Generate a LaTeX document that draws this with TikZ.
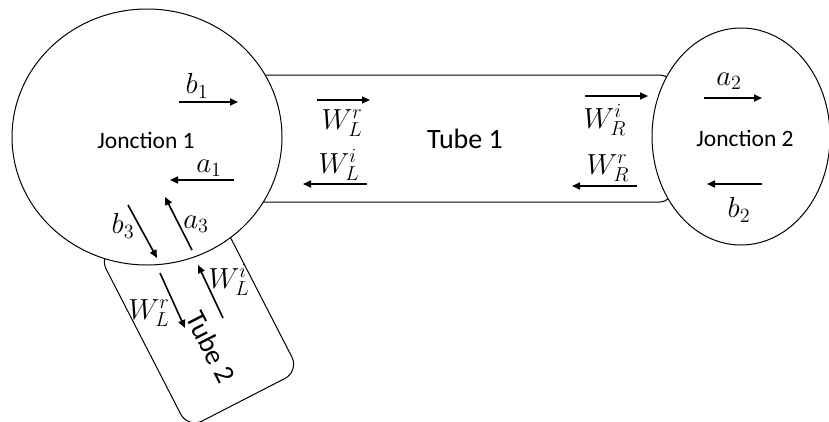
\documentclass[tikz,border=0pt]{standalone}
\usepackage{fontspec}
\setmainfont{Carlito}
\usetikzlibrary{shapes.geometric,arrows.meta}
\begin{document}
\begin{tikzpicture}[x=1pt,y=-1pt, line width=1pt,
  junction/.style={draw, ellipse, fill=white, inner sep=0pt},
  tubebox/.style={draw, rectangle, rounded corners=12pt, fill=white, inner sep=0pt},
  flow/.style={-{Triangle[length=8pt,width=7pt]}, line width=1.6pt},
  lbl/.style={font=\fontsize{20}{24}\selectfont, scale=1.4, inner sep=0pt},
  txt/.style={font=\fontsize{23.5}{28}\selectfont, inner sep=0pt},
  bigtxt/.style={font=\fontsize{28}{32}\selectfont, inner sep=0pt}]
\useasboundingbox (0,0) rectangle (829,421);
% tubes
\node[tubebox, minimum width=420pt, minimum height=127pt] (tube1) at (462,138.5) {};
\node[tubebox, rotate=-62.8, minimum width=195pt, minimum height=125pt, rounded corners=16pt] (tube2) at (199,313) {};
% junctions
\node[junction, minimum width=270pt, minimum height=256pt] (j1) at (147,137) {};
\node[junction, minimum width=178pt, minimum height=217pt] (j2) at (741,136.5) {};
% texts
\node[txt] (j1t) at (146,140) {Jonction 1};
\node[txt] (j2t) at (745,138) {Jonction 2};
\node[bigtxt] (t1t) at (465,139) {Tube 1};
\node[bigtxt, rotate=-63] (t2t) at (211,347) {Tube 2};
% arrows junction 1
\draw[flow] (179,102) -- (238,102);
\draw[flow] (234,180) -- (170,180);
\draw[flow] (128,205) -- (157,258);
\draw[flow] (192,250) -- (165,197);
% arrows tube 1
\draw[flow] (317,100) -- (370,100);
\draw[flow] (367,184) -- (303,184);
\draw[flow] (585,96) -- (648,96);
\draw[flow] (637,186) -- (572,186);
% arrows junction 2
\draw[flow] (704,98) -- (762,98);
\draw[flow] (762,184) -- (707,184);
% arrows tube 2
\draw[flow] (160,273) -- (185,328);
\draw[flow] (223,318) -- (198,265);
% labels
\node[lbl] (lb1) at (197,86) {$b_1$};
\node[lbl] (la1) at (209,168) {$a_1$};
\node[lbl] (lb3) at (123,226) {$b_3$};
\node[lbl] (la3) at (196,224) {$a_3$};
\node[lbl] (lwlr) at (342,123) {$W_L^r$};
\node[lbl] (lwli) at (339,165) {$W_L^i$};
\node[lbl] (lwri) at (605,120) {$W_R^i$};
\node[lbl] (lwrr) at (608,168) {$W_R^r$};
\node[lbl] (la2) at (729,81) {$a_2$};
\node[lbl] (lb2) at (739,210) {$b_2$};
\node[lbl] (lwlr2) at (149,313) {$W_L^r$};
\node[lbl] (lwli2) at (229,280) {$W_L^i$};
\end{tikzpicture}
\end{document}
